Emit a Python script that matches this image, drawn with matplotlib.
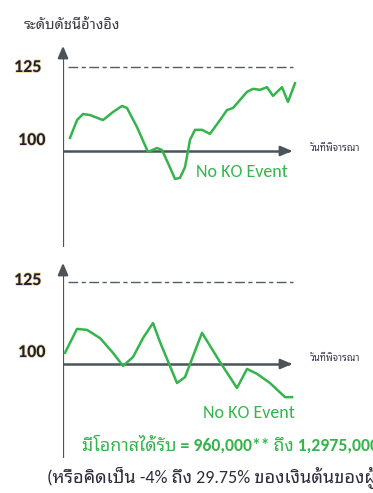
import matplotlib
matplotlib.use("Agg")
import matplotlib.pyplot as plt
import matplotlib.patheffects as pe

# top panel: index path, no knock-out
top_days = [7, 14, 20, 27, 40, 50, 59, 64, 74, 85, 94, 99, 105, 112, 117, 122,
            127, 132, 139, 147, 157, 164, 170, 177, 184, 190, 197, 204, 210,
            219, 225, 232]
top_vals = [103.9, 109.2, 111.0, 110.7, 109.2, 111.6, 113.4, 112.8, 107.1, 99.7,
            100.9, 100.3, 96.4, 91.7, 92.0, 95.2, 103.3, 106.3, 106.3, 105.1,
            109.2, 112.2, 112.8, 115.2, 117.6, 118.5, 118.2, 119.0, 116.4,
            119.0, 114.6, 120.2]

# bottom panel
bot_days = [2, 14, 24, 37, 50, 60, 70, 80, 90, 97, 114, 122, 139, 157, 174,
            184, 194, 207, 222, 229]
bot_vals = [103.4, 110.7, 110.4, 107.9, 103.4, 99.4, 102.1, 107.9, 112.5, 106.7,
            94.2, 96.0, 109.5, 100.6, 92.7, 98.5, 97.0, 94.2, 89.9, 89.9]

ko_level = 125
start_level = 100
y_title = "ระดับดัชนีอ้างอิง"
x_title = "วันที่พิจารณา"
event_label = "No KO Event"
payout_text = "มีโอกาสได้รับ = 960,000** ถึง 1,2975,000"
note_text = "(หรือคิดเป็น -4% ถึง 29.75% ของเงินต้นของผู้ลงทุน)"

GREEN = "#33b54c"
AXC = "#4b545b"
W, H = 373, 493

plt.rcParams['font.family'] = ['Carlito', 'Noto Sans Thai Looped', 'Noto Sans Thai',
                               'Loma', 'DejaVu Sans']

fig = plt.figure(figsize=(W / 100, H / 100), dpi=100)


def panel(top_px, bot_px, zero_px, scale, days, vals):
    ax = fig.add_axes([63 / W, 1 - bot_px / H, 237 / W, (bot_px - top_px) / H])
    ax.set_xlim(0, 237)
    ax.set_ylim(start_level - (bot_px - zero_px) / scale,
                start_level + (zero_px - top_px) / scale)
    ax.axis("off")
    y0, y1 = ax.get_ylim()
    ax.plot([0, 0], [y0, y1 - 4], color=AXC, lw=1.6)
    ax.annotate("", xy=(0, y1), xytext=(0, y1 - 4.5),
                arrowprops=dict(arrowstyle="-|>,head_width=0.3,head_length=0.7",
                                color=AXC, lw=1.6))
    ax.plot([0, 225], [start_level, start_level], color=AXC, lw=1.8)
    ax.annotate("", xy=(232, start_level), xytext=(222, start_level),
                arrowprops=dict(arrowstyle="-|>,head_width=0.3,head_length=0.7",
                                color=AXC, lw=1.6))
    ax.plot([5, 230], [ko_level, ko_level], color="#555b60", lw=1.0,
            dashes=(7, 2.5, 3, 2.5))
    ax.plot(days, vals, color=GREEN, lw=1.8, solid_joinstyle="round")
    return ax


ax1 = panel(43, 247, 151, 3.36, top_days, top_vals)
ax2 = panel(260, 458, 364, 3.28, bot_days, bot_vals)


def ftext(x, y, s, **kw):
    fig.text(x / W, 1 - y / H, s, **kw)


glow = [pe.withStroke(linewidth=1.2, foreground="#f1d9a0")]
ftext(24, 25, y_title, fontsize=10.5, color="#3a3a44", va="center")
for y125, y100, yx in [(67, 140, 148), (280, 352, 358)]:
    ftext(14, y125, str(ko_level), fontsize=13, fontweight="bold", va="center",
          color="#1c2038", path_effects=glow)
    ftext(18, y100, str(start_level), fontsize=13, fontweight="bold", va="center",
          color="#1c2038", path_effects=glow)
    ftext(310, yx, x_title, fontsize=7, color="#3a3a55", va="center")

ftext(196, 172, event_label, fontsize=13, color=GREEN, va="center")
ftext(203, 413, event_label, fontsize=13, color=GREEN, va="center")
ftext(82, 444, payout_text, fontsize=12.8, color=GREEN, fontweight="bold",
      va="center")
ftext(47, 478, note_text, fontsize=13, color="#2c2c3c", va="center")

fig.savefig("out.png", dpi=100)
